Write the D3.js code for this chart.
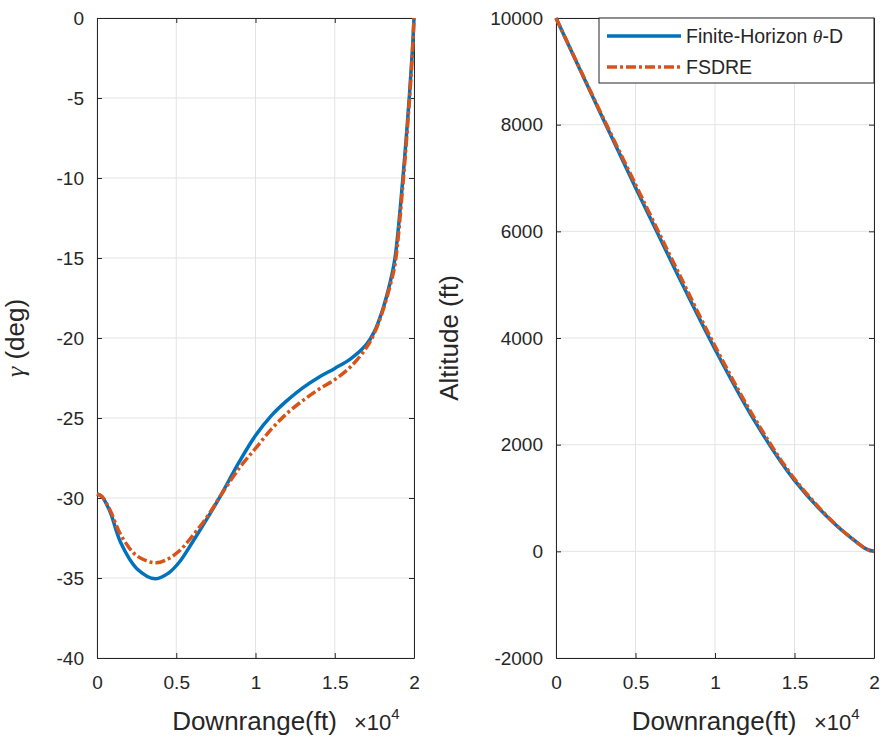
<!DOCTYPE html>
<html>
<head>
<meta charset="utf-8">
<script src="https://cdn.jsdelivr.net/npm/d3@7"></script>
<style>
  body { margin: 0; background: #fff; }
  svg { display: block; font-family: "Liberation Sans", Arial, sans-serif; }
</style>
</head>
<body>
<div id="chart"></div>
<script>
// downrange in units of 1e4 ft
const gammaX = [0, 0.03, 0.08, 0.15, 0.25, 0.37, 0.45, 0.52, 0.6, 0.7, 0.78, 0.9, 1.0, 1.1, 1.2, 1.3, 1.4, 1.5, 1.6, 1.7, 1.75, 1.8, 1.85, 1.88, 1.93, 1.97, 1.99, 2.0];
const gammaFH = [-29.75, -29.9, -30.8, -32.8, -34.4, -35.05, -34.7, -34.0, -32.8, -31.2, -29.85, -27.7, -26.1, -24.85, -23.9, -23.1, -22.45, -21.9, -21.3, -20.4, -19.6, -18.3, -16.5, -15.0, -10.0, -5.0, -2.0, 0];
const gammaFSDRE = [-29.75, -29.9, -30.7, -32.3, -33.6, -34.05, -33.8, -33.3, -32.4, -31.1, -29.85, -28.1, -26.9, -25.7, -24.7, -23.9, -23.2, -22.6, -21.8, -20.6, -19.7, -18.4, -16.7, -15.4, -10.4, -5.3, -2.2, 0];

const altX = [0, 0.25, 0.5, 0.75, 1.0, 1.25, 1.5, 1.75, 1.9, 1.95, 2.0];
const altFH = [10000, 8400, 6820, 5280, 3790, 2440, 1330, 520, 150, 45, 0];
const altFSDRE = [10000, 8420, 6880, 5350, 3850, 2490, 1360, 530, 150, 45, 0];

const xTicks = [0, 0.5, 1, 1.5, 2];
const gammaTicks = [0, -5, -10, -15, -20, -25, -30, -35, -40];
const altTicks = [10000, 8000, 6000, 4000, 2000, 0, -2000];

const seriesNames = ["Finite-Horizon", "FSDRE"];
const blue = "#0072BD", orange = "#D95319";
const dashDot = "10,3,3,3";

const width = 885, height = 740;
const svg = d3.select("#chart").append("svg")
  .attr("width", width).attr("height", height);

function drawPanel(left, right, yDomain, yTicks, xs, ys1, ys2) {
  const top = 18, bottom = 658;
  const x = d3.scaleLinear().domain([0, 2]).range([left, right]);
  const y = d3.scaleLinear().domain(yDomain).range([bottom, top]);
  const g = svg.append("g");

  // grid
  g.append("g").selectAll("line").data(xTicks).join("line")
    .attr("x1", d => x(d)).attr("x2", d => x(d))
    .attr("y1", top).attr("y2", bottom)
    .attr("stroke", "#e3e3e3").attr("stroke-width", 1);
  g.append("g").selectAll("line").data(yTicks).join("line")
    .attr("y1", d => y(d)).attr("y2", d => y(d))
    .attr("x1", left).attr("x2", right)
    .attr("stroke", "#e3e3e3").attr("stroke-width", 1);

  // axes with inward ticks on all sides
  const fmt = d => String(d);
  g.append("g").attr("transform", `translate(0,${bottom})`)
    .call(d3.axisBottom(x).tickValues(xTicks).tickSizeInner(-5).tickSizeOuter(0).tickPadding(18).tickFormat(fmt));
  g.append("g").attr("transform", `translate(0,${top})`)
    .call(d3.axisTop(x).tickValues(xTicks).tickSizeInner(-5).tickSizeOuter(0).tickFormat(""));
  g.append("g").attr("transform", `translate(${left},0)`)
    .call(d3.axisLeft(y).tickValues(yTicks).tickSizeInner(-5).tickSizeOuter(0).tickPadding(13).tickFormat(fmt));
  g.append("g").attr("transform", `translate(${right},0)`)
    .call(d3.axisRight(y).tickValues(yTicks).tickSizeInner(-5).tickSizeOuter(0).tickFormat(""));
  g.selectAll(".domain").attr("stroke", "#262626");
  g.selectAll(".tick line").attr("stroke", "#262626");
  g.selectAll(".tick text").attr("fill", "#262626").style("font-size", "19px")
    .style("font-family", "Liberation Sans, Arial, sans-serif");

  // lines
  const line = (ys) => d3.line()
    .x((d, i) => x(xs[i])).y(d => y(d))
    .curve(d3.curveCatmullRom.alpha(0.5))(ys);
  g.append("path").attr("d", line(ys1)).attr("fill", "none")
    .attr("stroke", blue).attr("stroke-width", 3.5);
  g.append("path").attr("d", line(ys2)).attr("fill", "none")
    .attr("stroke", orange).attr("stroke-width", 3.5).attr("stroke-dasharray", dashDot);

  // x label
  g.append("text").attr("x", (left + right) / 2 - 1).attr("y", 730)
    .attr("text-anchor", "middle").attr("fill", "#262626")
    .style("font-size", "26px").text("Downrange(ft)");
  const ex = g.append("text").attr("x", right - 60).attr("y", 730)
    .attr("fill", "#262626").style("font-size", "22px");
  ex.append("tspan").text("\u00d710");
  ex.append("tspan").attr("dy", -11).style("font-size", "15px").text("4");

  return { g, x, y };
}

drawPanel(97, 414, [-40, 0], gammaTicks, gammaX, gammaFH, gammaFSDRE);
drawPanel(556, 874, [-2000, 10000], altTicks, altX, altFH, altFSDRE);

// y labels
const yl1 = svg.append("text").attr("transform", "translate(24,338) rotate(-90)")
  .attr("text-anchor", "middle").attr("fill", "#262626").style("font-size", "26px");
yl1.append("tspan").style("font-family", "Liberation Serif, serif").style("font-style", "italic").text("\u03b3");
yl1.append("tspan").text(" (deg)");

svg.append("text").attr("transform", "translate(458,338) rotate(-90)")
  .attr("text-anchor", "middle").attr("fill", "#262626").style("font-size", "26px")
  .text("Altitude (ft)");

// legend
const lg = svg.append("g");
lg.append("rect").attr("x", 599).attr("y", 18).attr("width", 275).attr("height", 65)
  .attr("fill", "#fff").attr("stroke", "#262626").attr("stroke-width", 1);
const entries = [
  { name: seriesNames[0], color: blue, dash: null, y: 36 },
  { name: seriesNames[1], color: orange, dash: dashDot, y: 67 }
];
entries.forEach(e => {
  lg.append("line").attr("x1", 607).attr("x2", 681).attr("y1", e.y).attr("y2", e.y)
    .attr("stroke", e.color).attr("stroke-width", 3.5).attr("stroke-dasharray", e.dash);
  const t = lg.append("text").attr("x", 686).attr("y", e.y + 7)
    .attr("fill", "#262626").style("font-size", "19.5px");
  t.append("tspan").text(e.name);
  if (e.name === "Finite-Horizon") {
    t.append("tspan").text(" ");
    t.append("tspan").style("font-family", "Liberation Serif, serif").style("font-style", "italic").text("\u03b8");
    t.append("tspan").text("-D");
  }
});
</script>
</body>
</html>
